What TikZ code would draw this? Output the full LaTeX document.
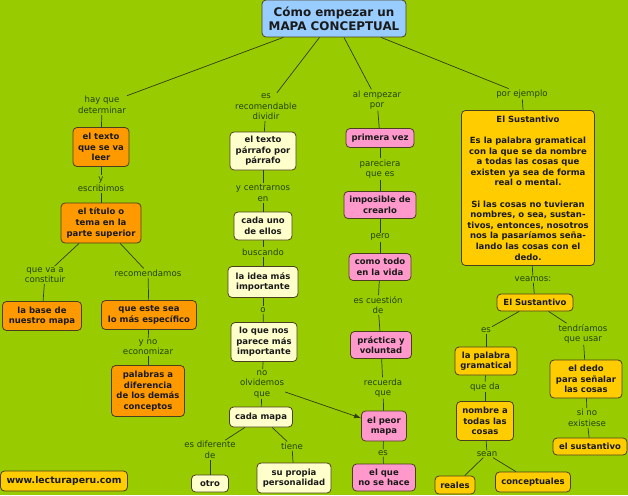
\documentclass[tikz,border=0pt]{standalone}
\usepackage{fontspec}
\setmainfont{DejaVu Sans}
\usetikzlibrary{arrows.meta}
\definecolor{bgc}{HTML}{99CC00}
\definecolor{orng}{HTML}{FF9900}
\definecolor{lyel}{HTML}{FFFFCC}
\definecolor{pnk}{HTML}{FF99CC}
\definecolor{gld}{HTML}{FFCC00}
\definecolor{blu}{HTML}{99CCFF}
\definecolor{bline}{HTML}{4A3F1E}
\definecolor{btxt}{HTML}{1A1A1A}
\definecolor{ltxt}{HTML}{1F4200}
\definecolor{lcol}{HTML}{2E3D14}
\tikzset{
  box/.style={draw=bline, line width=0.8pt, rounded corners=4pt, align=center, text=btxt,
    font=\bfseries\fontsize{8.5}{10.6}\selectfont, inner sep=1pt},
  obox/.style={box, fill=orng},
  ybox/.style={box, fill=lyel},
  pbox/.style={box, fill=pnk},
  gbox/.style={box, fill=gld},
  lbl/.style={align=center, text=ltxt, font=\fontsize{8.6}{10.5}\selectfont, inner sep=1pt},
  con/.style={draw=lcol, line width=0.7pt},
  sz/.style 2 args={minimum width=#1pt, minimum height=#2pt}
}
\begin{document}
\begin{tikzpicture}[x=1pt,y=-1pt]
\useasboundingbox (0,0) rectangle (628,495);
\fill[bgc] (0,0) rectangle (628,495);
% root
\node[box, fill=blu, sz={144}{37}, font=\bfseries\fontsize{11.9}{14}\selectfont] (root) at (334,18.5) {Cómo empezar un\\MAPA CONCEPTUAL};
% column 1
\node[lbl] (L1) at (102,105) {hay que\\determinar};
\node[obox, sz={56}{39}] (t1) at (101,147) {el texto\\que se va\\leer};
\node[lbl] (L2) at (101,184) {y\\escribimos};
\node[obox, sz={80}{40}] (t2) at (101,223) {el título o\\tema en la\\parte superior};
\node[lbl] (L3) at (45,275) {que va a\\constituir};
\node[lbl] (L4) at (148,273) {recomendamos};
\node[obox, sz={79}{29}] (t3) at (42,316) {la base de\\nuestro mapa};
\node[obox, sz={95}{29}] (t4) at (149,315) {que este sea\\lo más específico};
\node[lbl] (L5) at (148,347) {y no\\economizar};
\node[obox, sz={73}{51}] (t5) at (148,391) {palabras a\\diferencia\\de los demás\\conceptos};
\node[gbox, sz={127}{20}, font=\bfseries\fontsize{9.3}{11}\selectfont] (web) at (64,481) {www.lecturaperu.com};
% column 2
\node[lbl] (L6) at (266,107) {es\\recomendable\\dividir};
\node[ybox, sz={66}{38}] (s1) at (263,151) {el texto\\párrafo por\\párrafo};
\node[lbl] (L7) at (263,193) {y centrarnos\\en};
\node[ybox, sz={58}{28}] (s2) at (263,226) {cada uno\\de ellos};
\node[lbl] (L8) at (263,252) {buscando};
\node[ybox, sz={70}{31}] (s3) at (263,282) {la idea más\\importante};
\node[lbl] (L9) at (263,310) {o};
\node[ybox, sz={66}{39}] (s4) at (264,342) {lo que nos\\parece más\\importante};
\node[lbl] (L10) at (262,384) {no\\olvidemos\\que};
\node[ybox, sz={63}{20}] (s5) at (261,417) {cada mapa};
\node[lbl] (L11) at (210,450) {es diferente\\de};
\node[lbl] (L12) at (292,446) {tiene};
\node[ybox, sz={37}{17}] (s6) at (210,483.5) {otro};
\node[ybox, sz={74}{30}] (s7) at (294,478) {su propia\\personalidad};
% column 3
\node[lbl] (L13) at (377,100) {al empezar\\por};
\node[pbox, sz={68}{19}] (p1) at (380,138) {primera vez};
\node[lbl] (L14) at (380,169) {pareciera\\que es};
\node[pbox, sz={72}{27}] (p2) at (380,205) {imposible de\\crearlo};
\node[lbl] (L15) at (380,237) {pero};
\node[pbox, sz={62}{27}] (p3) at (380,267) {como todo\\en la vida};
\node[lbl] (L16) at (378,305) {es cuestión\\de};
\node[pbox, sz={61}{27}] (p4) at (381,345) {práctica y\\voluntad};
\node[lbl] (L17) at (383,388) {recuerda\\que};
\node[pbox, sz={45}{30}] (p5) at (384,426) {el peor\\mapa};
\node[lbl] (L18) at (383,453) {es};
\node[pbox, sz={63}{27}] (p6) at (384,477.5) {el que\\no se hace};
% column 4
\node[lbl] (L19) at (522,94) {por ejemplo};
\node[gbox, sz={133}{155}] (g0) at (528,188) {El Sustantivo\\[10.6pt]Es la palabra gramatical\\con la que se da nombre\\a todas las cosas que\\existen ya sea de forma\\real o mental.\\[10.6pt]Si las cosas no tuvieran\\nombres, o sea, sustan-\\tivos, entonces, nosotros\\nos la pasaríamos seña-\\lando las cosas con el\\dedo.};
\node[lbl] (L20) at (533,279) {veamos:};
\node[gbox, sz={76}{17}] (g1) at (535,302.5) {El Sustantivo};
\node[lbl] (L21) at (486,330) {es};
\node[lbl] (L22) at (583,334) {tendríamos\\que usar};
\node[gbox, sz={62}{28}] (g2) at (486,361) {la palabra\\gramatical};
\node[lbl] (L23) at (485,387) {que da};
\node[gbox, sz={57}{39}] (g3) at (485,421) {nombre a\\todas las\\cosas};
\node[lbl] (L24) at (487,454) {sean};
\node[gbox, sz={40}{18}] (g4) at (455,485) {reales};
\node[gbox, sz={75}{20}] (g5) at (533,482) {conceptuales};
\node[gbox, sz={72}{38}] (g6) at (586,379) {el dedo\\para señalar\\las cosas};
\node[lbl] (L25) at (587,418) {si no\\existiese};
\node[gbox, sz={74}{17}] (g7) at (590,446.5) {el sustantivo};
% connectors
\draw[con] (root) -- (L1);
\draw[con] (root) -- (L6);
\draw[con] (root) -- (L13);
\draw[con] (root) -- (L19);
\draw[con] (L1) -- (t1);
\draw[con] (t1) -- (L2);
\draw[con] (L2) -- (t2);
\draw[con] (t2) -- (L3);
\draw[con] (t2) -- (L4);
\draw[con] (L3) -- (t3);
\draw[con] (L4) -- (t4);
\draw[con] (t4) -- (L5);
\draw[con] (L5) -- (t5);
\draw[con] (L6) -- (s1);
\draw[con] (s1) -- (L7);
\draw[con] (L7) -- (s2);
\draw[con] (s2) -- (L8);
\draw[con] (L8) -- (s3);
\draw[con] (s3) -- (L9);
\draw[con] (L9) -- (s4);
\draw[con] (s4) -- (L10);
\draw[con] (L10) -- (s5);
\draw[con] (s5) -- (L11);
\draw[con] (s5) -- (L12);
\draw[con] (L11) -- (s6);
\draw[con] (L12) -- (s7);
\draw[con, -{Latex[length=7pt,width=5pt]}] (L10) -- (p5);
\draw[con] (L13) -- (p1);
\draw[con] (p1) -- (L14);
\draw[con] (L14) -- (p2);
\draw[con] (p2) -- (L15);
\draw[con] (L15) -- (p3);
\draw[con] (p3) -- (L16);
\draw[con] (L16) -- (p4);
\draw[con] (p4) -- (L17);
\draw[con] (L17) -- (p5);
\draw[con] (p5) -- (L18);
\draw[con] (L18) -- (p6);
\draw[con] (L19) -- (g0);
\draw[con] (g0) -- (L20);
\draw[con] (L20) -- (g1);
\draw[con] (g1) -- (L21);
\draw[con] (g1) -- (L22);
\draw[con] (L21) -- (g2);
\draw[con] (g2) -- (L23);
\draw[con] (L23) -- (g3);
\draw[con] (g3) -- (L24);
\draw[con] (L24) -- (g4);
\draw[con] (L24) -- (g5);
\draw[con] (L22) -- (g6);
\draw[con] (g6) -- (L25);
\draw[con] (L25) -- (g7);
\end{tikzpicture}
\end{document}
